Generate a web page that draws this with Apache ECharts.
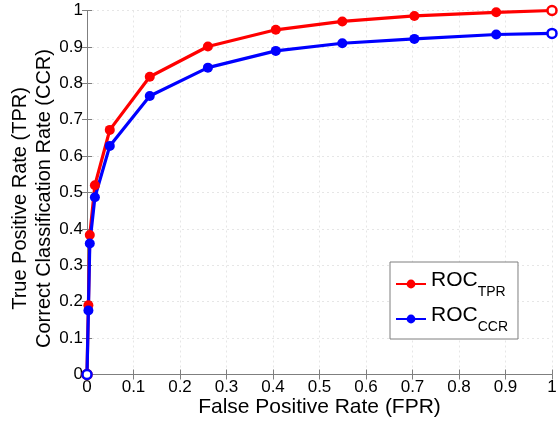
<!DOCTYPE html>
<html>
<head>
<meta charset="utf-8">
<script src="https://cdn.jsdelivr.net/npm/echarts@6/dist/echarts.min.js"></script>
<style>
html,body{margin:0;padding:0;background:#fff;}
#c{width:558px;height:421px;}
</style>
</head>
<body>
<div id="c"></div>
<script>
var fpr = [0, 0.003, 0.006, 0.017, 0.049, 0.135, 0.26, 0.406, 0.549, 0.704, 0.88, 1];
var tpr = [0, 0.19, 0.383, 0.52, 0.672, 0.818, 0.901, 0.947, 0.97, 0.985, 0.995, 1];
var ccr = [0, 0.176, 0.36, 0.487, 0.628, 0.765, 0.843, 0.889, 0.91, 0.922, 0.934, 0.937];
var xTicks = ['0','0.1','0.2','0.3','0.4','0.5','0.6','0.7','0.8','0.9','1'];
var yTicks = ['0','0.1','0.2','0.3','0.4','0.5','0.6','0.7','0.8','0.9','1'];
var seriesNames = ['ROC_TPR', 'ROC_CCR'];

var FONT = 'Liberation Sans, Arial, sans-serif';

function build(xs, ys, color) {
  return xs.map(function (x, i) {
    var item = { value: [x, ys[i]] };
    if (i === 0 || i === xs.length - 1) {
      item.itemStyle = { color: '#ffffff', borderColor: color, borderWidth: 2.5 };
      item.symbolSize = 9;
    }
    return item;
  });
}

var axisLineStyle = { color: '#7f7f7f', width: 1 };
var chart = echarts.init(document.getElementById('c'), null, { renderer: 'canvas' });
chart.setOption({
  backgroundColor: '#ffffff',
  animation: false,
  grid: { left: 87, right: 6, top: 10.5, bottom: 46.5, containLabel: false, outerBoundsMode: 'none' },
  xAxis: [{
    type: 'value', min: 0, max: 1, interval: 0.1,
    name: 'False Positive Rate (FPR)', nameLocation: 'middle', nameGap: 22, nameMoveOverlap: false,
    nameTextStyle: { fontFamily: FONT, fontSize: 21, color: '#000', verticalAlign: 'top' },
    axisLine: { show: true, lineStyle: axisLineStyle },
    axisTick: { show: true, inside: true, length: 5, lineStyle: axisLineStyle },
    axisLabel: { fontFamily: FONT, fontSize: 17, color: '#000', margin: 4,
      formatter: function (v) { return xTicks[Math.round(v * 10)]; } },
    splitLine: { show: true, lineStyle: { color: '#e6e6e6', type: [2, 3] } }
  }, {
    type: 'value', min: 0, max: 1, interval: 0.1, position: 'top',
    axisLine: { show: true, lineStyle: axisLineStyle },
    axisTick: { show: true, inside: true, length: 5, lineStyle: axisLineStyle },
    axisLabel: { show: false }, splitLine: { show: false }
  }],
  yAxis: [{
    type: 'value', min: 0, max: 1, interval: 0.1,
    name: 'True Positive Rate (TPR)\nCorrect Classification Rate (CCR)',
    nameLocation: 'middle', nameGap: 31, nameMoveOverlap: false,
    nameTextStyle: { fontFamily: FONT, fontSize: 20, color: '#000', lineHeight: 24, padding: [0, 12, 0, 0] },
    axisLine: { show: true, lineStyle: axisLineStyle },
    axisTick: { show: true, inside: true, length: 5, lineStyle: axisLineStyle },
    axisLabel: { fontFamily: FONT, fontSize: 17, color: '#000', margin: 4,
      formatter: function (v) { return yTicks[Math.round(v * 10)]; } },
    splitLine: { show: true, lineStyle: { color: '#e6e6e6', type: [2, 3] } }
  }, {
    type: 'value', min: 0, max: 1, interval: 0.1, position: 'right',
    axisLine: { show: true, lineStyle: axisLineStyle },
    axisTick: { show: true, inside: true, length: 5, lineStyle: axisLineStyle },
    axisLabel: { show: false }, splitLine: { show: false }
  }],
  legend: {
    orient: 'vertical', left: 390, top: 262,
    backgroundColor: '#fff', borderColor: '#7f7f7f', borderWidth: 1,
    padding: [7, 10, 5, 5], itemGap: 5, itemWidth: 30, itemHeight: 11, itemTextGap: 5,
    data: seriesNames,
    formatter: function (n) {
      var p = n.split('_');
      return '{m|' + p[0] + '}{s|' + p[1] + '}';
    },
    textStyle: {
      rich: {
        m: { fontFamily: FONT, fontSize: 21, color: '#000', lineHeight: 30, verticalAlign: 'top', padding: [1, 0, 0, 0] },
        s: { fontFamily: FONT, fontSize: 14, color: '#000', lineHeight: 30, verticalAlign: 'bottom' }
      }
    }
  },
  series: [{
    name: seriesNames[0], type: 'line', xAxisIndex: 0, yAxisIndex: 0,
    data: build(fpr, tpr, '#ff0000'),
    symbol: 'circle', symbolSize: 10, clip: false,
    lineStyle: { color: '#ff0000', width: 3.2 },
    itemStyle: { color: '#ff0000' }
  }, {
    name: seriesNames[1], type: 'line', xAxisIndex: 0, yAxisIndex: 0,
    data: build(fpr, ccr, '#0000ff'),
    symbol: 'circle', symbolSize: 10, clip: false,
    lineStyle: { color: '#0000ff', width: 3.2 },
    itemStyle: { color: '#0000ff' }
  }]
});
</script>
</body>
</html>
